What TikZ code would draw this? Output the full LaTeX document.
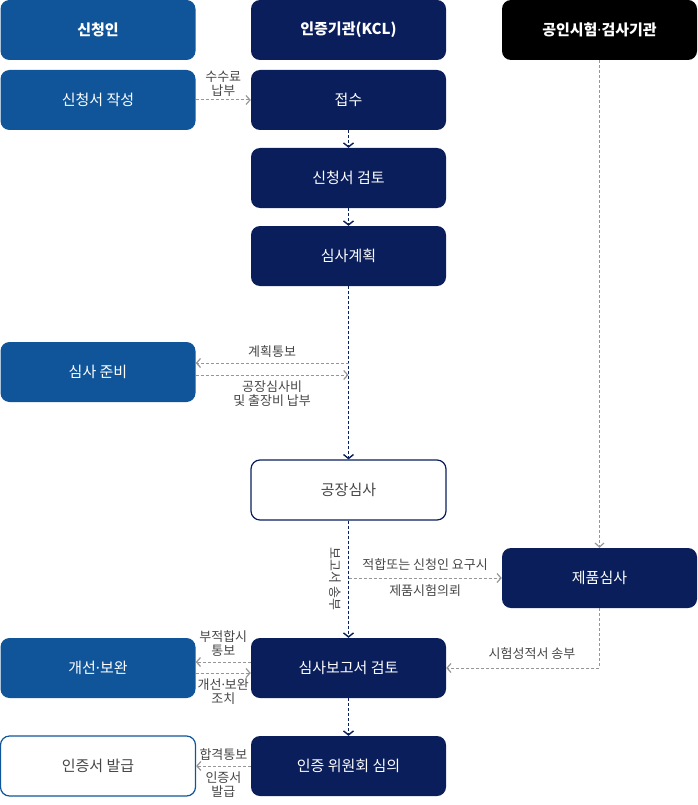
\documentclass[tikz,border=0pt]{standalone}
\usepackage{fontspec}
\setmainfont{Noto Sans CJK KR}
\newfontfamily\dotfont{Noto Sans}
\newcommand{\mdot}{{\dotfont ·}}
\usetikzlibrary{arrows.meta,calc}

\definecolor{kclblue}{RGB}{16,85,153}
\definecolor{kclnavy}{RGB}{10,30,92}
\definecolor{notegray}{RGB}{70,70,70}
\definecolor{linegray}{RGB}{150,150,150}

\tikzset{
    box/.style={rounded corners=9pt,minimum width=195pt,minimum height=60pt,inner sep=0pt,
        text=white,font=\fontsize{15}{17}\selectfont},
    head/.style={box,font=\fontsize{15}{17}\selectfont\bfseries},
    outbox/.style={box,fill=white,text=notegray,line width=1.2pt},
    note/.style={text=notegray,align=center,inner sep=2pt,font=\fontsize{13}{14}\selectfont},
    navyflow/.style={kclnavy,line width=1pt,dash pattern=on 3pt off 2pt,
        -{Straight Barb[length=4pt,width=10pt,line width=1.4pt]}},
    grayflow/.style={linegray,line width=1pt,dash pattern=on 3pt off 2pt,
        -{Straight Barb[length=4pt,width=9pt,line width=1.2pt]}}
}

\begin{document}
\begin{tikzpicture}[x=1pt,y=-1pt]
    \useasboundingbox (0,0) rectangle (698,805);

    \node[head,fill=kclblue] (applicant) at (98,30) {신청인};
    \node[head,fill=kclnavy] (kcl) at (348.5,30) {인증기관(KCL)};
    \node[head,fill=black] (lab) at (599.5,30) {공인시험\mdot 검사기관};

    \node[box,fill=kclblue] (apply) at (98,100) {신청서 작성};
    \node[box,fill=kclnavy] (receive) at (348.5,100) {접수};
    \node[box,fill=kclnavy] (review) at (348.5,178) {신청서 검토};
    \node[box,fill=kclnavy] (plan) at (348.5,256) {심사계획};
    \node[box,fill=kclblue] (prepare) at (98,372) {심사 준비};
    \node[outbox,draw=kclnavy] (audit) at (348.5,490) {공장심사};
    \node[box,fill=kclnavy] (product) at (599.5,578) {제품심사};
    \node[box,fill=kclblue] (improve) at (98,668) {개선\mdot 보완};
    \node[box,fill=kclnavy] (report) at (348.5,668) {심사보고서 검토};
    \node[outbox,draw=kclblue] (cert) at (98,766) {인증서 발급};
    \node[box,fill=kclnavy] (committee) at (348.5,766) {인증 위원회 심의};

    \draw[navyflow] (receive) -- (review);
    \draw[navyflow] (review) -- (plan);
    \draw[navyflow] (plan) -- (audit);
    \draw[navyflow] (audit) -- node[note,midway,rotate=-90,below=5pt] {보고서 송부} (report);
    \draw[navyflow] (report) -- (committee);

    \draw[grayflow] (apply) -- node[note,midway,above=1pt] {수수료\\납부} (receive);

    \coordinate (notice) at ($(prepare.east)+(0,-9)$);
    \coordinate (fee) at ($(prepare.east)+(0,3)$);
    \draw[grayflow] (plan |- notice) -- node[note,midway,above=3pt] {계획통보} (notice);
    \draw[grayflow] (fee) -- node[note,midway,below=3pt] {공장심사비\\및 출장비 납부} (plan |- fee);

    \draw[grayflow] (lab) -- (product);
    \draw[grayflow] (audit.south |- product) --
        node[note,midway,above=5pt] {적합또는 신청인 요구시}
        node[note,midway,below=4pt] {제품시험의뢰} (product);
    \draw[grayflow] (product) |- node[note,pos=0.72,above=6pt] {시험성적서 송부} (report);

    \coordinate (fail) at ($(improve.east)+(0,-6)$);
    \coordinate (fix) at ($(improve.east)+(0,5)$);
    \draw[grayflow] (report.west |- fail) -- node[note,midway,above=3pt] {부적합시\\통보} (fail);
    \draw[grayflow] (fix) -- node[note,midway,below=3pt] {개선\mdot 보완\\조치} (report.west |- fix);

    \draw[grayflow] (committee) --
        node[note,midway,above=3pt] {합격통보}
        node[note,midway,below=3pt] {인증서\\발급} (cert);
\end{tikzpicture}
\end{document}
